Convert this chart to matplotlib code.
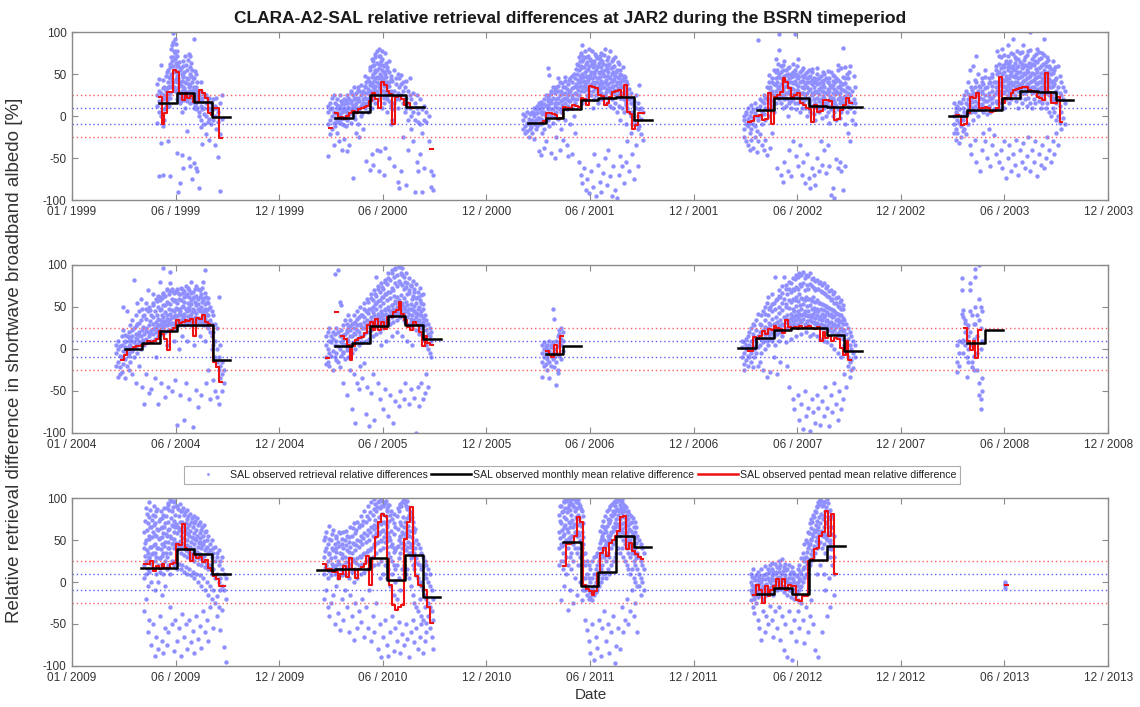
import numpy as np
import matplotlib
matplotlib.use('Agg')
import matplotlib.pyplot as plt
import matplotlib.dates as mdates
from matplotlib.lines import Line2D

plt.rcParams['font.family'] = ['Liberation Sans', 'DejaVu Sans']
plt.rcParams['axes.unicode_minus'] = False

nan = np.nan

# monthly means: (first month, one value per month)
mon_1999 = (6, [16, 28, 17, -1])
mon_2000 = (4, [-2, 5, 25, 25, 11])
mon_2001 = (3, [-8, -2, 8, 19, 22, 23, -5])
mon_2002 = (4, [7, 22, 22, 12, 11, 11])
mon_2003 = (3, [0, 7, 7, 22, 30, 29, 19])
mon_2004 = (4, [0, 7, 21, 28, 28, -13])
mon_2005 = (4, [3, 7, 27, 39, 29, 12])
mon_2006 = (4, [-6, 3])
mon_2007 = (3, [1, 13, 22, 25, 25, 17, -3])
mon_2008 = (4, [7, 22])
mon_2009 = (5, [17, 17, 39, 33, 9])
mon_2010 = (3, [14, 15, 16, 29, 2, 32, -18])
mon_2011 = (5, [48, -5, 12, 55, 42])
mon_2012 = (4, [-14, -7, -14, 26, 43])
mon_2013 = (6, [])

# pentad means: (first day of year, one value per 5 days)
pen_1999 = (151, [23, -9, 3, 29, 29, 55, 52, 27, 19, 27, 22, 24, 17, 17, 31, 28, 22, 3, 1, 10, 10, -26])
pen_2000 = (81, [-14, nan, 4, -2, -1, -3, 0, 4, 6, 3, 8, 9, 11, 12, 18, 27, 20, 10, 41, 37, 30, 26, -9,
                 23, 24, 20, 13, 15, 10, nan, nan, nan, nan, nan, nan, -39])
pen_2001 = (81, [-8, -6, 3, 4, 2, 1, -3, -2, 11, 10, 9, 13, 12, 11, 22, 20, 13, 36, 34, 33, 25, 24, 13, 15,
                 23, 29, 30, 31, 23, 37, 5, 2, -15, -11, 4, 4])
pen_2002 = (76, [-7, -6, 0, 0, 1, -5, -4, 27, -9, 23, 25, 29, 45, 40, 33, 23, 25, 27, 15, 13, 9, 8, -7, 13,
                 5, 6, 19, 19, 18, 11, -5, -3, 7, 13, 21, 15])
pen_2003 = (71, [1, 0, -11, -9, 3, 23, 22, 27, 9, 10, 11, 9, 5, 6, 9, 47, 16, 21, 20, 27, 31, 32, 33, 35,
                 34, 31, 30, 29, 23, 22, 19, 51, 29, 16, 15, 23, -7])
pen_2004 = (86, [-13, -7, -1, 0, 2, 3, 4, 5, 6, 9, 8, 10, 12, 21, 18, 12, -1, 23, 25, 34, 31, 32, 34, 33,
                 36, 15, 37, 36, 40, 32, 30, 29, -15, -21, -39])
pen_2005 = (76, [-11, nan, nan, 44, nan, 15, 12, 5, -13, 3, 11, 13, 14, 19, 29, 32, 22, 36, 22, 32, 24, 38,
                 38, 44, 46, 56, 42, 35, 26, 22, 32, 28, 20, 3, 16, 7, 5])
pen_2006 = (91, [-3, -7, -9, 5, -7, 15])
pen_2007 = (76, [-3, -3, 14, 12, 16, 21, 18, 24, 23, 27, 25, 24, 19, 34, 26, 25, 26, 24, 27, 25, 26, 27,
                 25, 24, 26, 9, 20, 13, 15, 9, 13, 12, 1, -7, 9, -13])
pen_2008 = (86, [25, 9, -1, 9, -11, 23])
pen_2009 = (126, [21, 21, 25, 13, 19, 16, 21, 17, 17, 21, 23, 45, 44, 69, 40, 38, 25, 33, 28, 30, 24, 26,
                  17, 13, 7, 4, -5, -5])
pen_2010 = (71, [21, 15, 15, 12, 12, 3, 10, 19, 6, 29, 15, 5, 15, 18, 21, 31, -3, 29, 53, 71, 81, 78, 27,
                 -4, -27, -33, -30, -27, 51, 71, 89, 31, 7, -3, -5, -9, -30, -49])
pen_2011 = (121, [19, 45, 45, 47, 55, 77, 71, -3, -8, -11, -15, -11, 11, 35, 41, 31, 47, 50, 55, 61, 77,
                  79, 39, 47, 37, 33, 30, 27])
pen_2012 = (86, [-15, -3, -9, -25, -5, -17, -10, -5, 3, -7, 3, -9, -3, -5, -5, -21, -23, -17, -17, 25, 27,
                 39, 41, 55, 60, 85, 55, 81, 9])
pen_2013 = (156, [-4])

# single retrievals: (day of year, values seen that day)
obs_1999 = [
    (149, [12, 38, 25, -8]), (152, [30, 18, 5, 44, -72]), (155, [61, 28, 0, 15, -32]),
    (158, [43, 20, -12, 33, -70]), (161, [8, 25, 35, -5]), (164, [48, 12, 30, 22]),
    (167, [40, 55, 22, 35, -30]), (170, [62, 28, 45, 35, -72]), (173, [80, 50, 70, 45]),
    (176, [99, 88, 70, 60, 40]), (179, [92, 75, 55, 68, 30]), (182, [78, 48, 40, 60, 20, -44]),
    (185, [60, 35, 25, 45, -90]), (188, [55, 38, 28, 15, -80]), (191, [42, 30, 50, 22, 5, -46]),
    (194, [35, 60, 25, 48, -62]), (197, [71, 30, 40, 20, 10]), (200, [55, 28, 45, 18, -18]),
    (203, [74, 35, 25, 38, -50]), (206, [72, 50, 30, 15, -60]), (209, [40, 22, 28, 55, -75]),
    (212, [92, 35, 45, 20, 10, -56]), (215, [50, 30, 25, 15, -62]), (218, [40, 22, 10, 30, -66]),
    (221, [25, 5, 20, 0, -86]), (224, [30, 12, 40, -5, -13]), (227, [22, 8, 18, -33]),
    (230, [26, 10, 2, -10]), (233, [15, 25, 0, -22]), (236, [20, 8, -7]), (239, [22, 10, -3, -29]),
    (242, [15, 5, -10]), (245, [20, 8, -5]), (248, [12, 0, -35]), (251, [22, 10, -15]),
    (254, [5, -7, -49]), (257, [15, -22, -89]), (260, [25, -3]),
]
obs_2000 = [
    (80, [5, -10, -48, 12]), (83, [15, -5, -22, 8]), (86, [0, 10, -15, 22]), (89, [25, -8, 5, -35]),
    (92, [3, -12, 15, -2]), (95, [10, -5, 20, -20]), (98, [-3, 8, 0, -30]), (101, [12, -8, 2, 25]),
    (104, [5, 15, -10, -40]), (107, [-2, 10, 20, -27]), (110, [8, 0, 18, -12]),
    (113, [15, 5, 25, -5, -42]), (116, [10, 2, 20, -35]), (119, [18, 8, 30, -8]),
    (122, [5, 12, 25, -74]), (125, [20, 10, 0, 35]), (128, [15, 28, 5, -20]), (131, [22, 10, 35, -10]),
    (134, [18, 30, 8, -25]), (137, [25, 12, 37, 0]), (140, [30, 15, 20, -15]), (143, [35, 22, 10, 48]),
    (146, [28, 40, 15, -54]), (149, [45, 20, 32, 5]), (152, [55, 30, 18, 40, -64]),
    (155, [60, 38, 25, 10, -45]), (158, [50, 35, 65, 20, -58]), (161, [70, 45, 30, 55, 15]),
    (164, [78, 55, 40, 30, -40]), (167, [80, 62, 45, 35, 20, -65]), (170, [72, 50, 38, 25, -42]),
    (173, [68, 55, 40, 30, 10]), (176, [60, 45, 30, 15, -70]), (179, [75, 40, 25, 50, -38]),
    (182, [55, 35, 20, 5]), (185, [65, 40, 28, -50]), (188, [48, 30, 15, -10]), (191, [42, 25, 8, -5]),
    (194, [55, 30, 15, -60]), (197, [38, 20, 45]), (200, [50, 28, 10, -78]), (203, [45, 35, 20, -86]),
    (206, [38, 25, 49, -66]), (209, [30, 15, 40, -25]), (212, [35, 20, 5]), (215, [42, 22, 10, -82]),
    (218, [30, 15, -5, -40]), (221, [25, 10, 45]), (224, [20, 0, -15]), (227, [28, 5, -30]),
    (230, [15, -5, -90]), (233, [10, 25, -55]), (236, [3, -7, -66]), (239, [20, -10, -45]),
    (242, [8, -20, -90]), (245, [12, -5, -62]), (250, [-7, 5]), (255, [0, -30]), (258, [-66, -85]),
    (262, [-70, -88]),
]
obs_2001 = [
    (52, [-5, -15, 2]), (55, [0, -12, -20]), (58, [-8, 5, -18]), (61, [-3, -10, -25]), (64, [2, -15, -8]),
    (67, [-5, 5, -20]), (70, [0, -10, -27]), (73, [8, -5, -15]), (76, [3, 12, -12]),
    (79, [15, -2, -8, -42]), (82, [5, -10, 17, -46]), (85, [10, -5, 2, -20]), (88, [20, 5, -15, -38]),
    (91, [12, 0, 25, -30]), (94, [18, 8, -5, 57]), (97, [25, 10, -12, 49]), (100, [15, 0, 30, -44]),
    (103, [22, 8, -8, 35]), (106, [28, 12, 0, -50]), (109, [20, 5, 35, -25]), (112, [30, 15, -3, 45]),
    (115, [25, 8, 40, -40]), (118, [18, 30, 5, -15]), (121, [35, 20, 10, -28]), (124, [28, 15, 42, -5]),
    (127, [32, 20, 8, -35]), (130, [38, 25, 12, -48]), (133, [30, 45, 18, -10]),
    (136, [40, 25, 10, -45]), (139, [35, 20, 50, 0]), (142, [45, 28, 15, -20]), (145, [50, 35, 20, 62]),
    (148, [55, 40, 25, 70, -55]), (151, [60, 45, 30, 75, -70]), (154, [65, 50, 35, 84, 15, -80]),
    (157, [58, 42, 30, 70, -62]), (160, [62, 48, 35, 20, -88]), (163, [55, 40, 70, 25, -75]),
    (166, [60, 45, 30, 80, -92]), (169, [52, 38, 25, 65, -65]), (172, [58, 40, 30, 10, -85]),
    (175, [50, 35, 62, 20, -45]), (178, [55, 40, 25, 72, -95]), (181, [60, 45, 30, 15, -58]),
    (184, [52, 38, 68, 20, -78]), (187, [58, 42, 28, 75, -90]), (190, [50, 35, 20, 62, -68]),
    (193, [55, 40, 25, 80, -50]), (196, [48, 32, 60, 15, -82]), (199, [52, 38, 22, 70, -40]),
    (202, [45, 30, 78, 12, -72]), (205, [50, 35, 20, 65, -95]), (208, [42, 28, 58, 10, -60]),
    (211, [48, 30, 70, 15, -88]), (214, [40, 25, 55, 5, -98]), (217, [45, 30, 62, 12, -70]),
    (220, [38, 22, 50, -5, -48]), (223, [42, 28, 10, -60]), (226, [35, 20, 48, 5, -80]),
    (229, [30, 15, 42, -10, -55]), (232, [25, 10, 38, -30]), (235, [20, 5, 32, -65]),
    (238, [15, 0, 28, -20]), (241, [22, 5, -10, -45]), (244, [18, -5, 12, -75]),
    (247, [10, -10, 25, -35]), (250, [15, -15, 0, -60]), (253, [8, -12, 37]), (256, [-3, -22, 10]),
    (259, [-28, 5]),
]
obs_2002 = [
    (70, [-5, -15, 0, -25]), (73, [2, -10, -30, 5]), (76, [-3, -12, -35, 10]), (79, [0, -8, -20, -40]),
    (82, [5, -15, -28, 13]), (85, [-2, 8, -38, -10]), (88, [3, -12, -25, 15]), (91, [0, 10, -18, -43]),
    (94, [8, -5, -30, 90]), (97, [12, 0, -22, 20]), (100, [5, 18, -10, -35]), (103, [15, 2, 25, -40]),
    (106, [10, 22, -5, -28]), (109, [20, 8, 35, -46]), (112, [28, 15, 40, 0]), (115, [22, 35, 10, -38]),
    (118, [30, 45, 18, -20]), (121, [38, 25, 55, 5]), (124, [45, 30, 68, 15]), (127, [40, 55, 25, -62]),
    (130, [50, 35, 79, 20, 98]), (133, [45, 30, 60, 15, -70]), (136, [55, 40, 25, 10, -78]),
    (139, [48, 35, 20, 65, -55]), (142, [42, 28, 55, 12]), (145, [50, 35, 20, 0, -65]),
    (148, [45, 30, 58, 15, -40]), (151, [40, 25, 50, 10, -72]), (154, [48, 32, 20, 62, -30]),
    (157, [42, 28, 15, 55, 98]), (160, [38, 25, 50, 8, -48]), (163, [45, 30, 68, 15, -60]),
    (166, [40, 22, 52, 5, -35]), (169, [35, 20, 48, 10, -70]), (172, [42, 28, 15, 57, -55]),
    (175, [38, 25, 10, 50, -80]), (178, [35, 20, 45, 0, -45]), (181, [40, 22, 55, 8, -74]),
    (184, [32, 18, 48, 5, -86]), (187, [38, 25, 12, 52, -62]), (190, [35, 20, 45, 2, -70]),
    (193, [30, 15, 42, -5, -82]), (196, [38, 22, 50, 10, -50]), (199, [32, 18, 45, 5, -66]),
    (202, [35, 20, 8, 48, -30]), (205, [30, 15, 42, -2, -58]), (208, [35, 22, 10, 50, -40]),
    (211, [28, 15, 45, 0, -68]), (214, [32, 18, 5, 40, -35]), (217, [30, 12, 45, -8, -60]),
    (220, [35, 20, 8, 52, -94]), (223, [28, 15, 42, 0, -86]), (226, [32, 18, 5, 48, -98]),
    (229, [30, 12, 45, -5, -51]), (232, [35, 20, 55, 8, -62]), (235, [28, 15, 40, -2, -55]),
    (238, [32, 18, 57, 5, -66]), (241, [38, 22, 81, 10, -88]), (244, [30, 45, 15, -10, -60]),
    (247, [35, 20, 50, 5]), (250, [28, 12, 45, -20]), (253, [25, 60, 10, -30]), (256, [30, 15, -5]),
    (259, [20, 48, 5]), (262, [15, 35, -10]),
]
obs_2003 = [
    (68, [0, -10, 15, -20]), (71, [5, -15, 10, -28]), (74, [-5, 12, -20, 2]), (77, [8, -8, 17, -32]),
    (80, [0, 15, -12, -25]), (83, [10, -5, 20, -18]), (86, [5, -15, 25, 0]), (89, [15, 2, 30, -22]),
    (92, [20, 8, 40, -10]), (95, [12, 25, 55, -35]), (98, [22, 5, 35, -45]), (101, [28, 10, 60, -5]),
    (104, [18, 35, 5, -28]), (107, [25, 40, 72, -55]), (110, [15, 30, 50, 0]), (113, [22, 8, 35, -66]),
    (116, [30, 12, 45, -40]), (119, [20, 5, 38, -20]), (122, [25, 10, 55, -30]), (125, [18, 35, 2, -50]),
    (128, [28, 12, 45, -15]), (131, [20, 40, 5, -60]), (134, [30, 15, 50, -35]), (137, [25, 40, 8, -23]),
    (140, [35, 18, 60, -45]), (143, [30, 50, 15, 77]), (146, [40, 25, 62, 10, -55]),
    (149, [45, 30, 70, 15, -40]), (152, [50, 35, 20, 80, -62]), (155, [42, 58, 28, 10, -30]),
    (158, [48, 35, 65, 20, -74]), (161, [55, 40, 25, 85, -50]), (164, [45, 30, 62, 15, -35]),
    (167, [52, 38, 75, 20, -66]), (170, [48, 30, 60, 92, -45]), (173, [55, 40, 25, 70, -58]),
    (176, [50, 35, 68, 18, -28]), (179, [45, 30, 60, 10, -70]), (182, [52, 38, 75, 22, -40]),
    (185, [48, 35, 62, 15, -55]), (188, [42, 28, 58, 84, -32]), (191, [50, 35, 70, 20, -62]),
    (194, [45, 30, 60, 12, -48]), (197, [52, 38, 78, 22, -25]), (200, [48, 32, 100, 15, -66]),
    (203, [42, 28, 62, 10, -40]), (206, [50, 35, 72, 20, -55]), (209, [45, 30, 65, 15, -30]),
    (212, [52, 38, 80, 25, -72]), (215, [48, 32, 68, 18, -45]), (218, [40, 25, 60, 10, -58]),
    (221, [45, 30, 75, 15, -35]), (224, [50, 35, 92, 20, -62]), (227, [42, 28, 60, 10, -50]),
    (230, [48, 32, 70, 15, -25]), (233, [40, 25, 58, 5, -40]), (236, [35, 20, 50, 0, -55]),
    (239, [42, 28, 65, 10, -30]), (242, [38, 22, 55, 5, -45]), (245, [30, 15, 45, -5, -20]),
    (248, [35, 20, 60, 0, -35]), (251, [28, 12, 48, -8]), (254, [25, 40, 5, -15]), (257, [20, 35, -2]),
    (260, [15, 30, -10]),
]
obs_2004 = [
    (78, [-5, -20, 5]), (81, [0, -15, 10, -33]), (84, [-8, -22, 3, -30]), (87, [5, -10, 15, -28]),
    (90, [-2, -18, 22, 50]), (93, [8, -12, 2, -35]), (96, [0, 15, -20, 45]), (99, [10, -5, 20, -25]),
    (102, [5, -15, 28, 12]), (105, [15, 0, 35, -30]), (108, [8, 25, -10, 82]), (111, [18, 5, 40, -41]),
    (114, [12, 30, -5, 55]), (117, [20, 8, 45, -20]), (120, [15, 35, 0, 60]), (123, [22, 10, 48, -45]),
    (126, [18, 40, 5, -65]), (129, [25, 12, 55, -30]), (132, [20, 45, 8, 70]), (135, [28, 15, 50, -53]),
    (138, [22, 40, 10, -48]), (141, [30, 18, 55, 65]), (144, [25, 45, 12, -35]), (147, [32, 20, 60, -10]),
    (150, [28, 50, 15, -65]), (153, [35, 22, 62, 80]), (156, [30, 48, 18, -40]), (159, [38, 25, 65, 97]),
    (162, [32, 52, 20, -57]), (165, [40, 28, 70, 5]), (168, [35, 55, 22, -45]), (171, [42, 30, 78, 92]),
    (174, [38, 60, 25, -50]), (177, [45, 30, 68, 10]), (180, [40, 58, 25, -37]), (183, [48, 32, 70, -90]),
    (186, [42, 60, 28, 0]), (189, [45, 30, 65, -55]), (192, [50, 35, 72, 15]), (195, [42, 62, 28, -85]),
    (198, [48, 32, 75, -40]), (201, [45, 65, 30, 10]), (204, [50, 35, 70, -60]), (207, [42, 58, 28, 80]),
    (210, [48, 32, 68, -93]), (213, [45, 62, 30, 5]), (216, [52, 35, 75, -49]), (219, [48, 60, 30, -69]),
    (222, [45, 30, 70, 15]), (225, [50, 35, 65, -55]), (228, [42, 58, 28, 80]), (231, [48, 32, 94, 10]),
    (234, [45, 62, 30, -40]), (237, [40, 25, 55, -25]), (240, [35, 50, 20, -60]), (243, [30, 15, 45, 0]),
    (246, [20, 5, 40, -37]), (249, [10, -10, 30, -50]), (252, [0, -15, 25, -57]),
    (255, [-10, -25, 62, -65]), (258, [-20, -35, 5]), (261, [-30, -15, -50]), (264, [-25, -40]),
]
obs_2005 = [
    (75, [5, -10, 15, -18]), (78, [0, -15, 20]), (81, [-5, 10, -20, 25]), (84, [8, -8, 15]),
    (87, [-2, 12, -25, 20]), (90, [89, 5, -10, 18]), (93, [10, -5, 25, -13]), (96, [3, 20, -15, 94]),
    (99, [15, 0, 56, -22]), (102, [8, 22, -8, 52]), (105, [12, -5, 28, -41]), (108, [5, 18, -12, 35]),
    (111, [20, 2, 30, -55]), (114, [10, 25, -10, 40]), (117, [22, 5, 35, -25]), (120, [15, 30, -5, -72]),
    (123, [25, 8, 40, -30]), (126, [18, 32, 0, -88]), (129, [28, 10, 45, -40]), (132, [20, 38, 5, -48]),
    (135, [30, 15, 50, -20]), (138, [25, 40, 8, -35]), (141, [32, 18, 55, -17]), (144, [28, 45, 10, -78]),
    (147, [35, 20, 60, -45]), (150, [30, 48, 12, -92]), (153, [38, 22, 65, -53]), (156, [32, 50, 15, -30]),
    (159, [40, 25, 70, -85]), (162, [35, 55, 18, 86]), (165, [42, 28, 75, -40]), (168, [38, 58, 20, -60]),
    (171, [45, 30, 78, 5]), (174, [40, 62, 25, -72]), (177, [48, 32, 80, -48]), (180, [42, 65, 28, 10]),
    (183, [50, 35, 85, -80]), (186, [45, 68, 30, -55]), (189, [52, 38, 90, 15]), (192, [48, 70, 32, -88]),
    (195, [55, 40, 95, -62]), (198, [50, 75, 35, 20]), (201, [58, 42, 98, -68]), (204, [52, 78, 38, -50]),
    (207, [55, 40, 88, 15]), (210, [50, 72, 35, -60]), (213, [48, 32, 80, -40]), (216, [45, 65, 30, 10]),
    (219, [42, 28, 70, -66]), (222, [48, 32, 75, -48]), (225, [40, 60, 25, 5]), (228, [45, 30, 68, -58]),
    (231, [38, 55, 22, -100]), (234, [42, 28, 62, -45]), (237, [35, 50, 18, -68]),
    (240, [40, 25, 55, -40]), (243, [32, 48, 15, -60]), (246, [28, 40, 10, -52]), (249, [22, 35, 5, -30]),
    (252, [18, 30, 0, -45]), (255, [15, 25, -5]), (258, [10, 20, -10]),
]
obs_2006 = [
    (85, [-5, -15, 5, -33]), (88, [0, -10, -20, 8]), (91, [-8, 3, -18, -5]), (94, [5, -12, -25, 0]),
    (97, [-3, -15, 10, -35]), (100, [2, -8, -20, 5]), (103, [48, -5, 8, -12]), (106, [36, 0, -10, -22]),
    (109, [10, -5, -15, -43]), (112, [15, 3, -25, -29]), (115, [22, 8, -8, 18]), (118, [25, 5, -12, 12]),
    (121, [20, 10, -3]),
]
obs_2007 = [
    (67, [2, -10, 10]), (70, [-5, 8, -18, -25]), (73, [0, 12, -13, 5]), (76, [-8, 15, -20, 3]),
    (79, [5, 20, -10, 0]), (82, [10, -5, 25, -15]), (85, [3, 18, -22, 30]), (88, [12, 0, 28, -10]),
    (91, [8, 22, -5, 35]), (94, [15, 2, 42, -20]), (97, [20, 5, 30, -15]), (100, [12, 28, 40, -5]),
    (103, [22, 8, 45, -25]), (106, [18, 35, 50, 0]), (109, [25, 10, 55, -33]), (112, [20, 40, 62, 5]),
    (115, [28, 12, 50, -28]), (118, [22, 45, 65, 10]), (121, [30, 15, 55, -10]), (124, [25, 48, 86, 5]),
    (127, [32, 18, 60, -30]), (130, [28, 50, 70, 10]), (133, [35, 20, 62, -15]), (136, [30, 55, 75, 15]),
    (139, [38, 22, 60, 86]), (142, [32, 50, 72, 8]), (145, [40, 25, 65, -20]), (148, [35, 58, 80, -45]),
    (151, [42, 28, 68, 12]), (154, [38, 60, 85, -60]), (157, [45, 30, 70, -72]), (160, [40, 62, 88, 15]),
    (163, [45, 30, 72, -55]), (166, [42, 65, 90, -85]), (169, [48, 32, 75, 18, -65]),
    (172, [42, 60, 92, -95]), (175, [45, 30, 70, -50]), (178, [40, 62, 88, 20, -80]),
    (181, [45, 28, 72, -70]), (184, [40, 60, 90, 15, -98]), (187, [48, 32, 75, -60]),
    (190, [42, 62, 85, 18, -75]), (193, [45, 30, 70, -88]), (196, [40, 58, 82, 15, -55]),
    (199, [45, 28, 72, -70]), (202, [38, 55, 80, 12, -90]), (205, [42, 25, 68, -62]),
    (208, [38, 52, 78, 10, -80]), (211, [40, 25, 65, -45]), (214, [35, 50, 75, 8, -70]),
    (217, [40, 22, 62, -92]), (220, [32, 48, 70, 5, -55]), (223, [38, 20, 60, -75]),
    (226, [30, 45, 68, 0, -40]), (229, [35, 18, 55, -65]), (232, [28, 42, 62, -5, -85]),
    (235, [32, 15, 50, -50]), (238, [25, 40, 58, -10, -72]), (241, [30, 12, 48, -60]),
    (244, [22, 35, 5, -30]), (247, [18, 30, -5, -45]), (250, [12, 25, -10, -20]), (253, [5, 20, -15, -33]),
    (256, [0, 15, -13, -25]), (259, [-5, 10, -23]), (262, [-10, 5]),
]
obs_2008 = [
    (74, [-15, -27, 5]), (78, [-5, 10, -20]), (82, [84, 70, 42, 8]), (85, [46, 38, 11, -5]),
    (88, [35, 31, 20, 5]), (91, [10, -10, 25, -33]), (94, [28, 15, 0, -15]), (97, [78, 70, 45, 20]),
    (100, [40, 5, -15, -22]), (103, [12, -8, 30, -25]), (106, [95, 86, 50, 30]), (109, [40, 15, -5, -25]),
    (112, [100, 60, 35, -40, -55]), (115, [50, 25, 0, -60, -72]), (118, [45, 10, -35, -50]),
]
obs_2009 = [
    (126, [40, 20, 60, 5, -35]), (129, [50, 25, 88, 10, -20]), (132, [35, 15, 70, -5, -60]),
    (135, [55, 30, 95, 12, -45]), (138, [42, 22, 65, 0, -75]), (141, [60, 35, 80, 15, -50]),
    (144, [45, 25, 70, -10, -88]), (147, [55, 30, 85, 10, -65]), (150, [40, 20, 62, 0, -80]),
    (153, [52, 28, 75, 12, -40]), (156, [45, 22, 65, -15, -70]), (159, [58, 35, 80, 10, -85]),
    (162, [48, 25, 70, -5, -55]), (165, [55, 30, 88, 15, -75]), (168, [62, 40, 92, 20, -60]),
    (171, [55, 35, 99, 10, -30]), (174, [68, 45, 85, 25, -50]), (177, [60, 40, 95, 20, -82]),
    (180, [65, 45, 80, 25, -45]), (183, [58, 38, 90, 15, -70]), (186, [62, 42, 78, 22, -55]),
    (189, [55, 35, 85, 15, -88]), (192, [60, 40, 72, 20, -38]), (195, [52, 32, 80, 12, -65]),
    (198, [58, 38, 70, 18, -50]), (201, [50, 30, 75, 10, -80]), (204, [55, 35, 68, 15, -45]),
    (207, [48, 28, 72, 8, -72]), (210, [52, 32, 65, 12, -58]), (213, [45, 25, 70, 5, -85]),
    (216, [50, 30, 62, 10, -40]), (219, [42, 22, 68, 0, -68]), (222, [48, 28, 58, 8, -52]),
    (225, [40, 20, 62, -5, -78]), (228, [45, 25, 55, 5, -35]), (231, [38, 18, 60, -10, -60]),
    (234, [42, 22, 50, 0, -45]), (237, [35, 15, 55, -15, -70]), (240, [38, 20, 45, -5, -30]),
    (243, [30, 10, 50, -20]), (246, [35, 15, 40, -10, -55]), (249, [25, 5, 42, -25]),
    (252, [30, 10, 35, -17, -41]), (255, [20, 0, 38, -30]), (258, [25, 5, -10, -57]),
    (261, [15, -5, 30, -33]), (264, [10, -9, -77]), (267, [5, -20, -95]),
]
obs_2010 = [
    (73, [30, 10, 50, -20]), (76, [40, 20, 60, -10]), (79, [25, 5, 45, -30]), (82, [35, 15, 67, -41]),
    (85, [28, 8, 50, -25]), (88, [38, 18, 62, -15]), (91, [30, 10, 45, -50]), (94, [40, 20, 55, -5]),
    (97, [25, 5, 48, -37]), (100, [35, 15, 58, -57]), (103, [28, 8, 45, -20]), (106, [40, 20, 60, -45]),
    (109, [30, 10, 50, -9]), (112, [38, 18, 55, -30]), (115, [28, 5, 48, -60]), (118, [42, 22, 65, -15]),
    (121, [35, 12, 55, -40]), (124, [45, 25, 70, 0, -69]), (127, [38, 15, 58, -25]),
    (130, [50, 28, 72, 5, -55]), (133, [42, 20, 65, -35]), (136, [55, 30, 79, 10, -48]),
    (139, [45, 22, 68, -20]), (142, [58, 35, 85, 12, -65]), (145, [48, 25, 72, -30]),
    (148, [62, 38, 90, 15, -55]), (151, [50, 28, 75, -10]), (154, [65, 40, 95, 18, -70]),
    (157, [55, 30, 80, -40]), (160, [68, 45, 99, 20, -60]), (163, [58, 35, 85, -25]),
    (166, [70, 48, 95, 22, -80]), (169, [60, 38, 88, 5, -50]), (172, [72, 50, 98, 25, -89]),
    (175, [62, 40, 90, 10, -65]), (178, [70, 48, 95, 20, -45]), (181, [65, 42, 85, 5, -75]),
    (184, [58, 35, 92, 15, -88]), (187, [50, 30, 80, -5, -60]), (190, [45, 25, 75, 10, -40]),
    (193, [40, 20, 70, -15, -82]), (196, [38, 15, 65, 0, -55]), (199, [42, 20, 78, -20, -70]),
    (202, [50, 28, 85, 5, -48]), (205, [55, 35, 90, -10, -85]), (208, [60, 40, 95, 15, -62]),
    (211, [65, 45, 99, 20, -75]), (214, [58, 38, 90, 10, -50]), (217, [62, 42, 87, 15, -68]),
    (220, [55, 35, 80, 5, -89]), (223, [45, 28, 75, -5, -60]), (226, [40, 20, 65, -15, -45]),
    (229, [35, 15, 60, -25, -72]), (232, [28, 8, 50, -30, -55]), (235, [22, 5, 45, -35, -80]),
    (238, [20, 0, 40, -20, -65]), (241, [15, -5, 35, -40, -50]), (244, [18, -10, 30, -45, -85]),
    (247, [10, -15, 25, -30, -70]), (250, [5, -20, 20, -49, -60]), (253, [0, -25, 15, -40]),
    (256, [-5, -30, 10, -55]), (259, [-10, -35, -65]), (262, [-20, -45, -80]),
]
obs_2011 = [
    (115, [60, 40, 20, 80]), (118, [70, 45, 25, 90, -21]), (121, [55, 35, 15, 85]),
    (124, [65, 45, 25, 95, -5]), (127, [75, 50, 30, 99, 10]), (130, [60, 40, 20, 88, -33]),
    (133, [70, 50, 30, 95, -9]), (136, [80, 55, 35, 99, 15]), (139, [65, 45, 25, 90, -25]),
    (142, [85, 60, 40, 99, 5]), (145, [75, 55, 35, 95, -15]), (148, [80, 60, 40, 98, 20]),
    (151, [70, 50, 30, 90, 0]), (154, [60, 40, 20, 85, -21]), (157, [45, 25, 5, 70, -10]),
    (160, [20, 5, -10, 35, -45]), (163, [10, -5, -15, 25, -57]), (166, [5, -10, -20, 20, -70]),
    (169, [0, -12, -18, 15, -85]), (172, [5, -8, -21, 25, -50]), (175, [10, -5, -15, 30, -93]),
    (178, [15, 0, -12, 31, -65]), (181, [20, 5, -10, 35, -78]), (184, [25, 10, -5, 40, -45]),
    (187, [35, 15, 0, 50, -88]), (190, [40, 20, 5, 55, -55]), (193, [50, 30, 10, 65, -35]),
    (196, [45, 25, 5, 60, -70]), (199, [55, 35, 15, 75, -50]), (202, [50, 30, 10, 70, -85]),
    (205, [60, 40, 20, 80, -60]), (208, [65, 45, 25, 85, -40]), (211, [70, 50, 30, 90, -96]),
    (214, [75, 55, 35, 95, -76]), (217, [80, 60, 40, 99, -55]), (220, [75, 55, 35, 92, -80]),
    (223, [85, 60, 40, 99, -30]), (226, [70, 50, 30, 88, -60]), (229, [65, 45, 25, 85, -45]),
    (232, [60, 40, 20, 80, -20]), (235, [55, 35, 15, 75, -50]), (238, [50, 30, 10, 70, -35]),
    (241, [55, 35, 15, 72, -10]), (244, [45, 25, 5, 65, -40]), (247, [40, 20, 0, 60, -25]),
    (250, [35, 15, -5, 55, -60]), (253, [30, 10, -5, 50]), (256, [25, 5, 45, -15]), (259, [20, 0, 40]),
    (262, [15, 35, -10]),
]
obs_2012 = [
    (82, [0, -10, 10, -21]), (85, [-5, -15, 15, -30]), (88, [5, -8, -20, -37]), (91, [-3, -12, 8, -25]),
    (94, [2, -18, 12, -45]), (97, [-8, 5, -15, -55]), (100, [0, -10, 15, -69]), (103, [-5, 8, -20, -35]),
    (106, [3, -12, 19, -60]), (109, [-2, -15, 10, -40]), (112, [5, -8, 15, -50]), (115, [0, -12, 20, -28]),
    (118, [8, -5, 23, -45]), (121, [2, -15, 12, -65]), (124, [10, -3, 22, -35]), (127, [5, -10, 18, -55]),
    (130, [12, 0, 25, -30]), (133, [5, -8, 20, -69]), (136, [10, -5, 27, -40]), (139, [3, -12, 18, -81]),
    (142, [8, -8, 22, -50]), (145, [0, -15, 15, -89]), (148, [5, -10, 20, -35]), (151, [-2, -18, 12, -60]),
    (154, [5, -12, 18, -93]), (157, [0, -20, 10, -45]), (160, [-5, -15, 8, -70]), (163, [0, -21, 15, -35]),
    (166, [5, -10, 20, -55]), (169, [10, -5, 28, -25]), (172, [15, 0, 35, -45]), (175, [25, 5, 45, -73]),
    (178, [30, 10, 50, -30]), (181, [40, 15, 60, -60]), (184, [45, 20, 70, -40]), (187, [50, 25, 75, -21]),
    (190, [55, 30, 80, -50]), (193, [60, 35, 85, -81]), (196, [62, 40, 90, 10]), (199, [65, 45, 95, -89]),
    (202, [70, 48, 99, 20]), (205, [60, 40, 90, -60]), (208, [65, 45, 95, 10]), (211, [55, 35, 85, -9]),
    (214, [70, 50, 99, -40]), (217, [60, 40, 85, 5]), (220, [50, 30, 75, -30]), (223, [40, 20, 65]),
    (226, [30, 10, 55, -15]),
]
obs_2013 = [(157, [-2, -7, -4, 0])]

# extra retrievals inside the busiest part of each season (between the days above)
core_1999 = [
    (165.5, [33, 18, 52]), (168.5, [47, 26, 12]), (171.5, [58, 36, 21]), (174.5, [66, 41, 85]),
    (177.5, [78, 52, 34]), (180.5, [63, 44, 86]), (183.5, [53, 31, 71]), (186.5, [41, 22, 64]),
    (189.5, [37, 57, 18]), (192.5, [46, 27, 66]), (195.5, [52, 33, 19]), (198.5, [39, 61, 24]),
    (201.5, [44, 29, 67]), (204.5, [36, 58, 21]), (207.5, [48, 26, 63]), (210.5, [31, 45, 17]),
    (213.5, [27, 54, 12]), (216.5, [34, 19, 8]),
]
core_2000 = [
    (95.5, [4, -7, 13]), (101.5, [-4, 9, 18]), (107.5, [6, -11, 14]), (113.5, [11, -2, 21]),
    (119.5, [3, 16, 27]), (125.5, [13, -4, 22]), (131.5, [8, 19, 31]), (137.5, [14, 27, 3]),
    (143.5, [21, 36, 12]), (149.5, [27, 42, 16]), (152.5, [37, 58, 23]), (155.5, [47, 29, 68]),
    (158.5, [42, 61, 33]), (161.5, [52, 36, 74]), (164.5, [63, 46, 28]), (167.5, [57, 72, 38]),
    (170.5, [48, 66, 31]), (173.5, [61, 43, 78]), (176.5, [52, 36, 21]), (179.5, [47, 63, 29]),
    (182.5, [41, 58, 24]), (185.5, [36, 52, 18]), (188.5, [44, 27, 12]),
]
core_2001 = [
    (64.5, [-6, 4, -13]), (70.5, [3, -7, 10]), (76.5, [-2, 8, -9]), (82.5, [9, -4, 13]),
    (88.5, [4, 14, -6]), (94.5, [13, 2, 21]), (100.5, [8, 19, 27]), (106.5, [16, 4, 31]),
    (112.5, [21, 9, 36]), (118.5, [26, 13, 39]), (124.5, [22, 35, 47]), (130.5, [29, 43, 18]),
    (136.5, [33, 48, 22]), (142.5, [38, 56, 26]), (146.5, [43, 61, 31]), (149.5, [48, 66, 36]),
    (152.5, [57, 73, 41]), (155.5, [46, 68, 34]), (158.5, [53, 77, 38]), (161.5, [47, 64, 32]),
    (164.5, [56, 72, 43]), (167.5, [49, 68, 36]), (170.5, [62, 45, 78]), (173.5, [53, 66, 37]),
    (176.5, [47, 74, 33]), (179.5, [58, 41, 69]), (182.5, [51, 63, 36]), (185.5, [46, 71, 32]),
    (188.5, [54, 39, 66]), (191.5, [48, 73, 35]), (194.5, [43, 61, 29]), (197.5, [56, 38, 67]),
    (200.5, [47, 62, 33]), (203.5, [41, 57, 27]), (206.5, [53, 36, 68]), (209.5, [44, 59, 31]),
    (212.5, [37, 52, 24]), (215.5, [47, 33, 64]), (218.5, [41, 55, 26]), (221.5, [35, 49, 21]),
    (224.5, [44, 28, 58]), (227.5, [36, 19, 47]), (230.5, [28, 41, 13]),
]
core_2002 = [
    (112.5, [33, 18, 49]), (118.5, [41, 26, 12]), (124.5, [37, 52, 23]), (127.5, [47, 33, 62]),
    (133.5, [38, 53, 24]), (136.5, [43, 61, 31]), (142.5, [36, 49, 21]), (145.5, [41, 57, 27]),
    (151.5, [33, 46, 18]), (154.5, [39, 53, 26]), (160.5, [46, 31, 59]), (163.5, [36, 22, 48]),
    (169.5, [42, 28, 55]), (172.5, [33, 47, 19]), (178.5, [41, 27, 53]), (181.5, [31, 46, 16]),
    (187.5, [43, 28, 56]), (190.5, [27, 41, 13]), (196.5, [44, 29, 57]), (199.5, [26, 39, 12]),
    (205.5, [38, 24, 52]), (208.5, [29, 43, 16]), (214.5, [41, 26, 54]), (217.5, [23, 37, 11]),
    (223.5, [37, 22, 49]), (226.5, [26, 41, 14]), (232.5, [43, 28, 61]), (235.5, [23, 36, 9]),
    (241.5, [31, 47, 16]), (244.5, [39, 24, 58]), (250.5, [33, 18, 52]),
]
core_2003 = [
    (92.5, [13, 26, 3]), (98.5, [17, 31, 6]), (104.5, [26, 12, 43]), (110.5, [21, 36, 9]),
    (116.5, [27, 14, 41]), (122.5, [33, 18, 46]), (128.5, [24, 39, 11]), (134.5, [36, 21, 47]),
    (140.5, [41, 27, 55]), (146.5, [53, 37, 71]), (149.5, [38, 57, 26]), (152.5, [61, 43, 29]),
    (155.5, [52, 36, 73]), (158.5, [44, 63, 31]), (161.5, [58, 37, 71]), (164.5, [49, 66, 33]),
    (167.5, [41, 58, 26]), (170.5, [56, 37, 74]), (173.5, [47, 63, 32]), (176.5, [58, 41, 77]),
    (179.5, [53, 36, 68]), (182.5, [46, 64, 31]), (185.5, [57, 39, 76]), (188.5, [51, 34, 67]),
    (191.5, [43, 61, 28]), (194.5, [55, 38, 73]), (197.5, [46, 63, 33]), (200.5, [58, 41, 79]),
    (203.5, [51, 35, 68]), (206.5, [43, 61, 29]), (209.5, [56, 39, 74]), (212.5, [47, 64, 32]),
    (215.5, [57, 41, 76]), (218.5, [51, 34, 69]), (221.5, [43, 62, 27]), (224.5, [55, 38, 73]),
    (227.5, [47, 64, 31]), (230.5, [53, 36, 67]), (233.5, [44, 59, 27]), (236.5, [41, 56, 24]),
    (239.5, [36, 51, 19]), (242.5, [43, 28, 58]),
]
core_2004 = [
    (93.5, [-3, 9, 17]), (99.5, [4, -8, 14]), (105.5, [9, 22, -3]), (111.5, [13, 27, 2]),
    (117.5, [17, 31, 6]), (123.5, [26, 39, 11]), (129.5, [21, 36, 48]), (135.5, [33, 46, 19]),
    (141.5, [38, 52, 24]), (147.5, [41, 57, 27]), (150.5, [36, 63, 22]), (153.5, [46, 28, 58]),
    (156.5, [41, 61, 27]), (159.5, [52, 33, 67]), (162.5, [44, 63, 29]), (165.5, [56, 36, 71]),
    (168.5, [47, 66, 31]), (171.5, [53, 36, 69]), (174.5, [46, 72, 31]), (177.5, [57, 38, 67]),
    (180.5, [49, 68, 33]), (183.5, [55, 39, 71]), (186.5, [47, 66, 34]), (189.5, [58, 41, 73]),
    (192.5, [51, 67, 37]), (195.5, [56, 38, 69]), (198.5, [47, 63, 33]), (201.5, [55, 39, 73]),
    (204.5, [46, 62, 31]), (207.5, [53, 37, 67]), (210.5, [45, 61, 33]), (213.5, [56, 38, 72]),
    (216.5, [43, 63, 29]), (219.5, [54, 37, 71]), (222.5, [47, 62, 32]), (225.5, [56, 38, 73]),
    (228.5, [45, 61, 31]), (231.5, [53, 36, 67]), (234.5, [41, 56, 27]), (237.5, [47, 32, 61]),
]
core_2005 = [
    (105.5, [6, -4, 17]), (111.5, [12, -1, 23]), (117.5, [16, 3, 27]), (123.5, [19, 7, 31]),
    (129.5, [22, 12, 36]), (135.5, [27, 14, 41]), (141.5, [25, 38, 47]), (147.5, [29, 43, 56]),
    (153.5, [33, 48, 61]), (156.5, [44, 27, 58]), (159.5, [36, 53, 66]), (162.5, [47, 29, 63]),
    (165.5, [38, 57, 71]), (168.5, [51, 33, 68]), (171.5, [42, 62, 74]), (174.5, [55, 36, 71]),
    (177.5, [46, 66, 82]), (180.5, [58, 38, 77]), (183.5, [47, 68, 91]), (186.5, [61, 41, 82]),
    (189.5, [52, 73, 94]), (192.5, [63, 43, 86]), (195.5, [57, 78, 96]), (198.5, [62, 44, 88]),
    (201.5, [55, 81, 99]), (204.5, [64, 46, 91]), (207.5, [52, 76, 96]), (210.5, [61, 43, 86]),
    (213.5, [56, 74, 91]), (216.5, [52, 38, 79]), (219.5, [48, 67, 84]), (222.5, [53, 36, 76]),
    (225.5, [46, 63, 81]), (228.5, [51, 34, 72]), (231.5, [43, 61, 77]), (234.5, [48, 33, 68]),
    (237.5, [41, 58, 73]), (240.5, [45, 30, 64]), (243.5, [37, 53, 66]),
]
core_2007 = [
    (106.5, [26, 13, 42]), (112.5, [31, 17, 48]), (118.5, [36, 19, 53]), (124.5, [38, 23, 58]),
    (130.5, [43, 26, 63]), (136.5, [46, 29, 67]), (142.5, [53, 36, 76]), (148.5, [49, 31, 72]),
    (151.5, [56, 37, 79]), (154.5, [48, 71, 33]), (157.5, [58, 39, 83]), (160.5, [51, 74, 35]),
    (163.5, [57, 38, 86]), (166.5, [52, 77, 34]), (169.5, [61, 41, 88]), (172.5, [53, 79, 36]),
    (175.5, [58, 40, 84]), (178.5, [51, 76, 33]), (181.5, [59, 39, 87]), (184.5, [52, 77, 35]),
    (187.5, [57, 38, 83]), (190.5, [49, 73, 32]), (193.5, [56, 37, 81]), (196.5, [48, 71, 31]),
    (199.5, [55, 36, 79]), (202.5, [47, 69, 30]), (205.5, [53, 35, 76]), (208.5, [46, 67, 29]),
    (211.5, [51, 33, 73]), (214.5, [44, 63, 27]), (217.5, [49, 31, 69]), (220.5, [42, 58, 26]),
    (223.5, [46, 29, 65]), (226.5, [39, 55, 23]), (229.5, [43, 26, 61]), (232.5, [36, 51, 19]),
    (235.5, [40, 23, 56]), (238.5, [33, 47, 17]), (241.5, [37, 21, 52]),
]
core_2009 = [
    (127.5, [47, 31, 73]), (130.5, [62, 38, 81]), (133.5, [51, 28, 77]), (136.5, [66, 42, 86]),
    (139.5, [53, 33, 74]), (142.5, [68, 44, 91]), (145.5, [56, 34, 78]), (148.5, [63, 41, 87]),
    (151.5, [51, 29, 73]), (154.5, [64, 39, 84]), (157.5, [53, 31, 76]), (160.5, [66, 43, 88]),
    (163.5, [57, 34, 79]), (166.5, [71, 48, 94]), (169.5, [63, 41, 86]), (172.5, [76, 52, 96]),
    (175.5, [67, 46, 89]), (178.5, [73, 51, 97]), (181.5, [69, 47, 91]), (184.5, [66, 44, 87]),
    (187.5, [71, 49, 93]), (190.5, [63, 43, 84]), (193.5, [67, 46, 88]), (196.5, [61, 41, 83]),
    (199.5, [64, 44, 86]), (202.5, [57, 37, 78]), (205.5, [61, 42, 81]), (208.5, [54, 35, 76]),
    (211.5, [58, 39, 79]), (214.5, [51, 33, 73]), (217.5, [55, 36, 76]), (220.5, [47, 29, 69]),
    (223.5, [52, 33, 71]), (226.5, [44, 27, 66]), (229.5, [49, 31, 68]), (232.5, [41, 24, 61]),
]
core_2010 = [
    (74.5, [37, 17, 54]), (80.5, [33, 13, 51]), (86.5, [41, 21, 57]), (92.5, [36, 16, 52]),
    (98.5, [43, 22, 59]), (104.5, [33, 14, 51]), (110.5, [44, 24, 61]), (116.5, [36, 17, 53]),
    (122.5, [47, 27, 64]), (128.5, [44, 23, 62]), (134.5, [49, 31, 68]), (140.5, [52, 33, 73]),
    (146.5, [56, 36, 78]), (152.5, [59, 38, 83]), (158.5, [63, 43, 87]), (161.5, [74, 53, 93]),
    (164.5, [66, 46, 89]), (167.5, [77, 57, 96]), (170.5, [69, 49, 91]), (173.5, [81, 61, 97]),
    (176.5, [71, 53, 93]), (179.5, [78, 58, 96]), (182.5, [68, 49, 88]), (185.5, [73, 54, 92]),
    (188.5, [61, 43, 85]), (194.5, [57, 36, 81]), (200.5, [63, 43, 88]), (203.5, [72, 53, 93]),
    (206.5, [68, 47, 91]), (209.5, [77, 57, 97]), (212.5, [71, 52, 94]), (215.5, [76, 56, 96]),
    (218.5, [67, 48, 89]), (221.5, [61, 42, 83]), (224.5, [53, 36, 77]), (227.5, [47, 31, 71]),
    (230.5, [41, 24, 63]),
]
core_2011 = [
    (116.5, [73, 52, 91]), (119.5, [62, 43, 83]), (122.5, [77, 57, 96]), (125.5, [68, 48, 88]),
    (128.5, [83, 63, 97]), (131.5, [71, 52, 92]), (134.5, [86, 66, 98]), (137.5, [74, 55, 93]),
    (140.5, [89, 69, 99]), (143.5, [77, 58, 95]), (146.5, [88, 68, 97]), (149.5, [76, 56, 93]),
    (152.5, [67, 47, 87]), (155.5, [53, 33, 78]), (185.5, [46, 28, 61]), (188.5, [52, 33, 67]),
    (191.5, [58, 39, 73]), (194.5, [63, 43, 79]), (197.5, [67, 48, 84]), (200.5, [71, 52, 87]),
    (203.5, [74, 56, 91]), (206.5, [78, 59, 93]), (209.5, [81, 62, 95]), (212.5, [84, 66, 97]),
    (215.5, [87, 69, 98]), (218.5, [85, 66, 97]), (221.5, [88, 69, 99]), (224.5, [82, 63, 95]),
    (227.5, [77, 58, 92]), (230.5, [73, 54, 89]), (233.5, [68, 49, 85]), (236.5, [63, 44, 81]),
    (239.5, [61, 41, 79]), (242.5, [57, 38, 76]), (245.5, [52, 33, 71]), (248.5, [46, 29, 66]),
]
core_2012 = [
    (83.5, [-4, 6, -13]), (89.5, [-9, 2, -16]), (95.5, [-2, -11, 7]), (101.5, [-7, 4, -14]),
    (107.5, [-3, 9, -9]), (113.5, [2, -7, 12]), (119.5, [5, -4, 16]), (125.5, [1, 12, -8]),
    (131.5, [6, -3, 17]), (137.5, [2, 13, -7]), (143.5, [4, -6, 14]), (149.5, [-1, 9, -10]),
    (155.5, [3, -8, 12]), (161.5, [-3, 7, -12]), (167.5, [2, 12, -6]), (173.5, [18, 6, 29]),
    (179.5, [36, 21, 48]), (182.5, [44, 27, 58]), (185.5, [51, 33, 64]), (188.5, [57, 38, 71]),
    (191.5, [62, 43, 77]), (194.5, [68, 49, 83]), (197.5, [73, 53, 89]), (200.5, [77, 57, 93]),
    (203.5, [81, 61, 96]), (206.5, [75, 55, 92]), (209.5, [79, 58, 95]), (212.5, [71, 52, 89]),
    (215.5, [77, 56, 94]), (218.5, [66, 46, 86]), (221.5, [57, 39, 78]),
]

panel_years = [
    [(1999, mon_1999, pen_1999, obs_1999 + core_1999), (2000, mon_2000, pen_2000, obs_2000 + core_2000),
     (2001, mon_2001, pen_2001, obs_2001 + core_2001), (2002, mon_2002, pen_2002, obs_2002 + core_2002),
     (2003, mon_2003, pen_2003, obs_2003 + core_2003)],
    [(2004, mon_2004, pen_2004, obs_2004 + core_2004), (2005, mon_2005, pen_2005, obs_2005 + core_2005),
     (2006, mon_2006, pen_2006, obs_2006), (2007, mon_2007, pen_2007, obs_2007 + core_2007),
     (2008, mon_2008, pen_2008, obs_2008)],
    [(2009, mon_2009, pen_2009, obs_2009 + core_2009), (2010, mon_2010, pen_2010, obs_2010 + core_2010),
     (2011, mon_2011, pen_2011, obs_2011 + core_2011), (2012, mon_2012, pen_2012, obs_2012 + core_2012),
     (2013, mon_2013, pen_2013, obs_2013)],
]

SCATTER_C = '#8f8fff'
FRAME_C = '#8a8a8a'
TEXT_C = '#333333'


def day_num(year, doy):
    return mdates.date2num(np.datetime64(f'{year}-01-01')) + np.asarray(doy, dtype=float) - 1


def month_num(year, month):
    y, m = year + (month - 1) // 12, (month - 1) % 12 + 1
    return mdates.date2num(np.datetime64(f'{y}-{m:02d}-01'))


def draw_steps(ax, x, vals, **kw):
    v = np.asarray(vals, dtype=float)
    ax.step(x, np.append(v, v[-1]), where='post', **kw)


fig = plt.figure(figsize=(11.4, 7.07), dpi=100)
bottoms = [0.7171, 0.3876, 0.0580]

for seasons, bottom in zip(panel_years, bottoms):
    ax = fig.add_axes([0.0632, bottom, 0.9088, 0.2376])
    y0 = seasons[0][0]

    for year, (m0, mvals), (p0, pvals), obs in seasons:
        xs = [d for d, vals in obs for _ in vals]
        ys = [v for d, vals in obs for v in vals]
        ax.scatter(day_num(year, xs), ys, s=10, color=SCATTER_C, linewidths=0, zorder=1)
        if mvals:
            edges = [month_num(year, m0 + i) for i in range(len(mvals) + 1)]
            draw_steps(ax, edges, mvals, color='black', lw=1.8, zorder=4)
        pedges = day_num(year, p0 + 5 * np.arange(len(pvals) + 1))
        draw_steps(ax, pedges, pvals, color='#ee1111', lw=1.5, zorder=3)

    for lev, col in [(25, '#ff5c5c'), (-25, '#ff5c5c'), (10, '#5c5cff'), (-10, '#5c5cff')]:
        ax.axhline(lev, color=col, ls=(0, (1, 2)), lw=1.0, zorder=2)

    start = mdates.date2num(np.datetime64(f'{y0}-01-01'))
    end = mdates.date2num(np.datetime64(f'{y0 + 4}-12-01'))
    ticks = np.linspace(start, end, 11)
    ax.set_xlim(start, end)
    ax.set_xticks(ticks)
    ax.xaxis.set_major_formatter(mdates.DateFormatter('%m / %Y'))
    ax.set_ylim(-100, 100)
    ax.set_yticks([-100, -50, 0, 50, 100])
    ax.tick_params(direction='in', top=True, right=True, length=4, width=0.8,
                   color=FRAME_C, labelcolor=TEXT_C, labelsize=8.5, pad=4)
    for sp in ax.spines.values():
        sp.set_color(FRAME_C)
        sp.set_linewidth(1.0)

fig.text(0.5, 0.974, 'CLARA-A2-SAL relative retrieval differences at JAR2 during the BSRN timeperiod',
         ha='center', va='center', fontsize=12.5, fontweight='bold', color='#1a1a1a')
fig.text(0.013, 0.49, 'Relative retrieval difference in shortwave broadband albedo [%]',
         rotation=90, ha='center', va='center', fontsize=13.5, color=TEXT_C)
fig.text(0.518, 0.017, 'Date', ha='center', va='center', fontsize=11, color=TEXT_C)

handles = [
    Line2D([], [], ls='none', marker='o', markersize=2, color=SCATTER_C, markeredgewidth=0),
    Line2D([], [], color='black', lw=1.8),
    Line2D([], [], color='#ee1111', lw=1.8),
]
labels = ['SAL observed retrieval relative differences',
          'SAL observed monthly mean relative difference',
          'SAL observed pentad mean relative difference']
leg = fig.legend(handles, labels, loc='center', bbox_to_anchor=(0.5018, 0.3281), ncol=3,
                 fontsize=7.6, frameon=True, fancybox=False, edgecolor='#999999',
                 handlelength=3.8, handletextpad=0.2, columnspacing=0.3, borderpad=0.35)
leg.get_frame().set_linewidth(0.8)
for t in leg.get_texts():
    t.set_color('#222222')

fig.savefig('out.png', dpi=100)
